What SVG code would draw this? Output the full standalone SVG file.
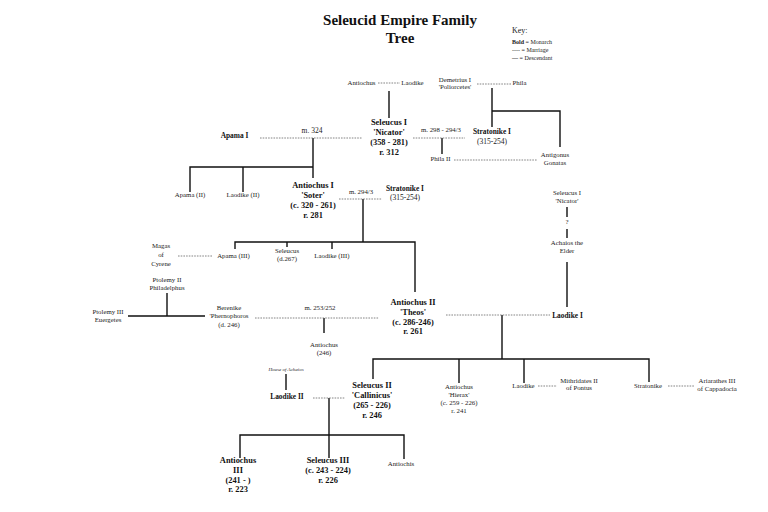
<svg xmlns="http://www.w3.org/2000/svg" width="768" height="512" viewBox="0 0 768 512">
<style>
text{font-family:"Liberation Serif","Times New Roman",serif;fill:#222;text-anchor:middle}
.t{font-size:15px;font-weight:bold;fill:#111}
.s{font-size:6.8px}
.m{font-size:7.5px}
.b{font-size:8.4px;font-weight:bold;fill:#111}
.q{font-size:7.4px;font-weight:bold;fill:#111}
.k{font-size:6px;text-anchor:start}
.sol{stroke:#111;stroke-width:1.4;fill:none}
.dot{stroke:#666;stroke-width:0.8;stroke-dasharray:1.6 1.1;fill:none}
</style>
<rect width="768" height="512" fill="#fff"/>
<g id="title">
<text class="t" x="400" y="25">Seleucid Empire Family</text>
<text class="t" x="400" y="43">Tree</text>
</g>
<g id="key">
<text x="512" y="33" style="font-size:8px;text-anchor:start">Key:</text>
<text class="k" x="512" y="44"><tspan font-weight="bold">Bold</tspan> = Monarch</text>
<text class="k" x="512" y="52">---- = Marriage</text>
<text class="k" x="512" y="60"><tspan font-weight="bold">—</tspan> = Descendant</text>
</g>
<g id="connectors">
<path class="sol" d="M389,91V118M492,88V127M492,111H560V147M442,138V154M313,138V178M190,192V167H313M243,167V192M363,199V242M235,249V242H415V292M287,242V247M332,242V249M567,207V217M567,229V238M567,262V307M167,293V316M128,316H205M324,318V333M502,315V359M373,379V359H649V382M459,359V383M524,359V383M286,374V390M329,398V458M240,458V435H404V459"/>
<path class="dot" d="M378,83H400M477,84H512M260,138H362M413,138H465M454,160H537M339,199H382M178,256H213M255,318H379M446,315H550M313,398H345M538,386H557M668,386H695"/>
</g>
<g id="antiochus-top"><text class="s" x="361.5" y="85">Antiochus</text></g>
<g id="laodike-top"><text class="s" x="412.5" y="85">Laodike</text></g>
<g id="demetrius"><text class="s" x="455" y="82">Demetrius I</text><text class="s" x="455" y="89">'Poliorcetes'</text></g>
<g id="phila"><text class="s" x="519.5" y="85">Phila</text></g>
<g id="seleucus1"><text class="b" x="389" y="125">Seleucus I</text><text class="b" x="389" y="135">'Nicator'</text><text class="b" x="389" y="145">(358 - 281)</text><text class="b" x="389" y="155">r. 312</text></g>
<g id="apama1"><text class="q" x="234.5" y="138">Apama I</text><text class="m" x="312" y="133">m. 324</text></g>
<g id="stratonike1"><text class="s" x="441" y="132">m. 298 - 294/3</text><text class="q" x="492" y="134">Stratonike I</text><text class="m" x="492" y="144">(315-254)</text></g>
<g id="phila2"><text class="s" x="440.5" y="161">Phila II</text></g>
<g id="antigonus"><text class="s" x="555" y="157">Antigonus</text><text class="s" x="555" y="165">Gonatas</text></g>
<g id="apama2"><text class="s" x="190" y="197">Apama (II)</text></g>
<g id="laodike2a"><text class="s" x="243" y="197">Laodike (II)</text></g>
<g id="antiochus1"><text class="b" x="313" y="188">Antiochus I</text><text class="b" x="313" y="198">'Soter'</text><text class="b" x="313" y="208">(c. 320 - 261)</text><text class="b" x="313" y="218">r. 281</text></g>
<g id="stratonike1b"><text class="s" x="361" y="194">m. 294/3</text><text class="q" x="405" y="191">Stratonike I</text><text class="m" x="405" y="200">(315-254)</text></g>
<g id="seleucus1-right"><text class="s" x="567" y="195">Seleucus I</text><text class="s" x="567" y="203">'Nicator'</text><text class="s" x="567" y="224">?</text></g>
<g id="achaios"><text class="s" x="567" y="245">Achaios the</text><text class="s" x="567" y="253">Elder</text></g>
<g id="magas"><text class="s" x="161" y="248">Magas</text><text class="s" x="161" y="257">of</text><text class="s" x="161" y="266">Cyrene</text></g>
<g id="apama3"><text class="s" x="233.5" y="258">Apama (III)</text></g>
<g id="seleucus-d267"><text class="s" x="287" y="253">Seleucus</text><text class="s" x="287" y="261">(d.267)</text></g>
<g id="laodike3"><text class="s" x="332" y="258">Laodike (III)</text></g>
<g id="ptolemy2"><text class="s" x="167" y="282">Ptolemy II</text><text class="s" x="167" y="290">Philadelphus</text></g>
<g id="ptolemy3"><text class="s" x="108" y="314">Ptolemy III</text><text class="s" x="108" y="322">Euergetes</text></g>
<g id="berenike"><text class="s" x="229" y="310">Berenike</text><text class="s" x="229" y="318">'Phernophoros</text><text class="s" x="229" y="327">(d. 246)</text></g>
<g id="antiochus246"><text class="s" x="320" y="310">m. 253/252</text><text class="s" x="324" y="347">Antiochus</text><text class="s" x="324" y="355">(246)</text></g>
<g id="antiochus2"><text class="b" x="413" y="305">Antiochus II</text><text class="b" x="413" y="315">'Theos'</text><text class="b" x="413" y="325">(c. 286-246)</text><text class="b" x="413" y="334">r. 261</text></g>
<g id="laodike1"><text class="q" x="567.5" y="318">Laodike I</text></g>
<g id="laodike2"><text x="286" y="371" style="font-size:5px;font-style:italic">House of Achaios</text><text class="q" x="287" y="399">Laodike II</text></g>
<g id="seleucus2"><text class="b" x="372" y="388">Seleucus II</text><text class="b" x="372" y="398">'Callinicus'</text><text class="b" x="372" y="408">(265 - 226)</text><text class="b" x="372" y="418">r. 246</text></g>
<g id="hierax"><text class="s" x="459" y="389">Antiochus</text><text class="s" x="459" y="397">'Hierax'</text><text class="s" x="459" y="405">(c. 259 - 226)</text><text class="s" x="459" y="413">r. 241</text></g>
<g id="laodike-pontus"><text class="s" x="523.5" y="388">Laodike</text></g>
<g id="mithridates"><text class="s" x="579" y="383">Mithridates II</text><text class="s" x="579" y="390">of Pontus</text></g>
<g id="stratonike-c"><text class="s" x="648" y="388">Stratonike</text></g>
<g id="ariarathes"><text class="s" x="717" y="383">Ariarathes III</text><text class="s" x="717" y="391">of Cappadocia</text></g>
<g id="antiochus3"><text class="b" x="238" y="463">Antiochus</text><text class="b" x="238" y="473">III</text><text class="b" x="238" y="483">(241 - )</text><text class="b" x="238" y="492">r. 223</text></g>
<g id="seleucus3"><text class="b" x="328" y="463">Seleucus III</text><text class="b" x="328" y="473">(c. 243 - 224)</text><text class="b" x="328" y="483">r. 226</text></g>
<g id="antiochis"><text class="s" x="401" y="466">Antiochis</text></g>
</svg>
